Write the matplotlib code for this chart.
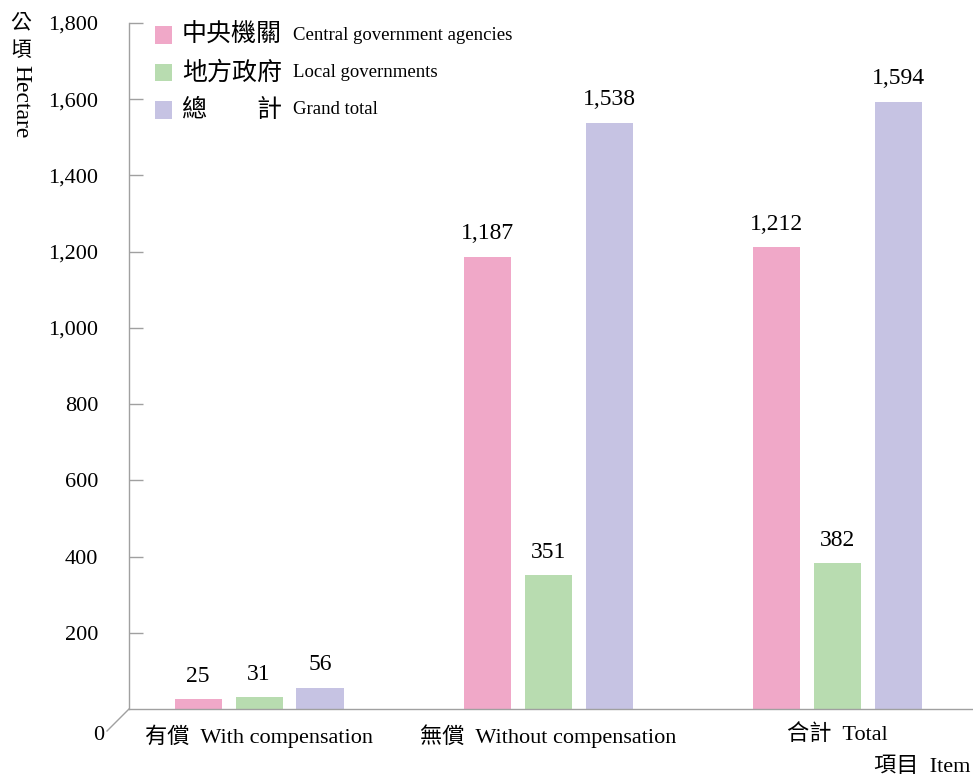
import numpy as np
import matplotlib
matplotlib.use('Agg')
from matplotlib import pyplot as plt
from matplotlib.patches import Rectangle
from matplotlib.lines import Line2D

FONTS = ['Liberation Serif', 'Noto Sans CJK TC']
plt.rcParams['font.family'] = FONTS
plt.rcParams['font.weight'] = 'light'

categories = ['有償  With compensation', '無償  Without compensation', '合計  Total']
series_cjk = ['中央機關', '地方政府', '總\u3000\u3000計']
series_en = ['Central government agencies', 'Local governments', 'Grand total']
central = [25, 1187, 1212]
local = [31, 351, 382]
grand = [56, 1538, 1594]
colors = ['#f0a8c8', '#b8dcb0', '#c6c3e3']
yticks = [200, 400, 600, 800, 1000, 1200, 1400, 1600, 1800]

fig = plt.figure(figsize=(9.73, 7.78), dpi=100)
ax = fig.add_axes([129 / 973, 69 / 778, 1 - 129 / 973, 686 / 778])

x = np.arange(len(categories))
w = 0.163
step = 0.211
for i, (vals, c) in enumerate(zip([central, local, grand], colors)):
    bars = ax.bar(x + (i - 1) * step, vals, w, color=c, edgecolor='none')
    for b, v in zip(bars, vals):
        ax.annotate(f'{v:,}', (b.get_x() + b.get_width() / 2, v),
                    xytext=(0, 9), textcoords='offset points',
                    ha='center', va='bottom', fontsize=17)

ax.set_xlim(-0.45, 2.47)
ax.set_ylim(0, 1800)
ax.set_yticks(yticks)
ax.set_yticklabels([f'{t:,}' for t in yticks], fontsize=16)
ax.set_xticks(x)
ax.set_xticklabels(categories, fontsize=16)
ax.tick_params(axis='y', direction='in', length=10, width=1, color='#a0a0a0', pad=22)
ax.tick_params(axis='x', length=0, pad=11)

for s in ['top', 'right']:
    ax.spines[s].set_visible(False)
for s in ['left', 'bottom']:
    ax.spines[s].set_color('#a0a0a0')
    ax.spines[s].set_linewidth(1)

# floor diagonal and zero label
fig.add_artist(Line2D([107 / 973, 129 / 973], [(778 - 731) / 778, 69 / 778],
                      color='#a0a0a0', lw=1))
fig.text(99 / 973, (778 - 735) / 778, '0', fontsize=16, ha='center', va='center')

# y-axis title
fig.text(21 / 973, (778 - 24) / 778, '公', fontsize=15, ha='center', va='center')
fig.text(21 / 973, (778 - 52) / 778, '頃', fontsize=15, ha='center', va='center')
fig.text(21 / 973, (778 - 65) / 778, 'Hectare', fontsize=17, rotation=-90,
         ha='center', va='top')

# x-axis title
fig.text(970 / 973, (778 - 767) / 778, '項目  Item', fontsize=16, ha='right', va='center')

# legend
for k in range(3):
    yc = 35 + k * 37.5
    fig.add_artist(Rectangle((155 / 973, (778 - yc - 8.5) / 778), 17 / 973, 17 / 778,
                             transform=fig.transFigure, color=colors[k], lw=0))
    fig.text(182 / 973, (778 - yc) / 778, series_cjk[k], fontsize=18,
             ha='left', va='center')
    fig.text(293 / 973, (778 - yc) / 778, series_en[k], fontsize=13.5,
             ha='left', va='center')

fig.savefig('out.png', dpi=100)
